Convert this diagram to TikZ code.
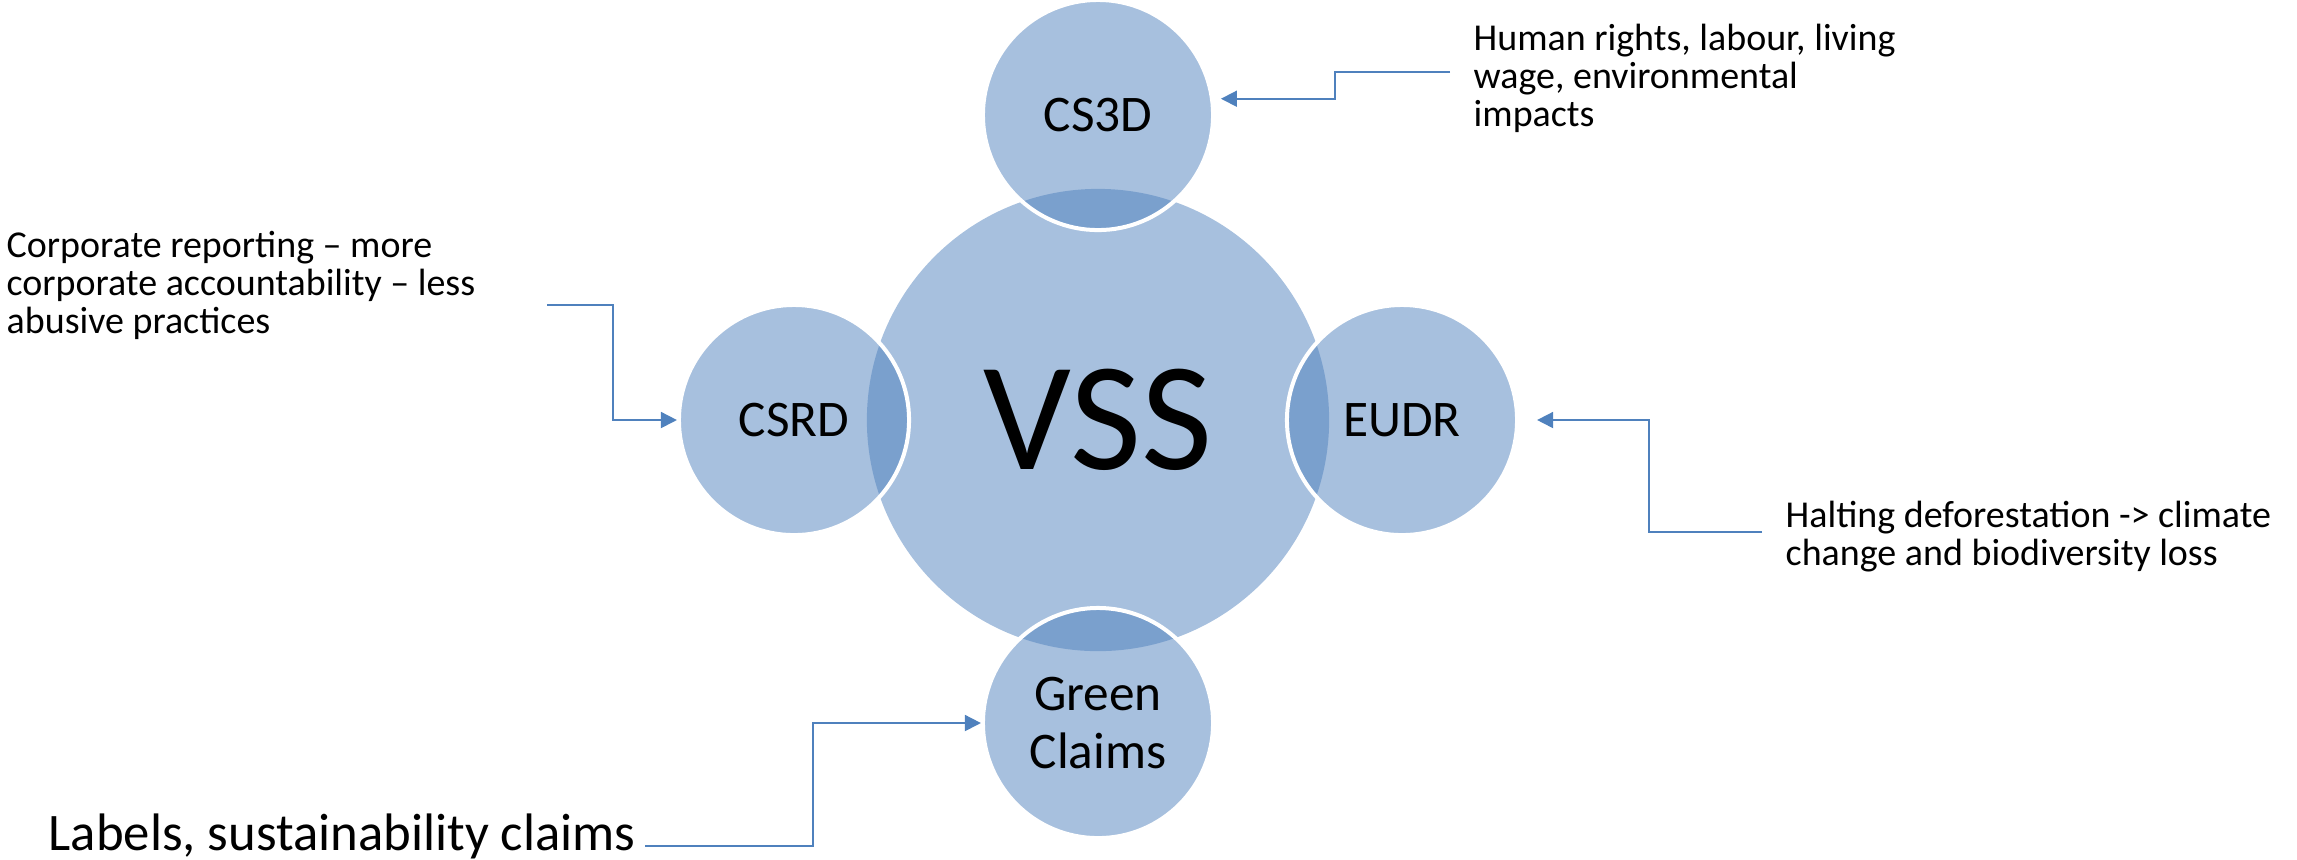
\documentclass[tikz,border=0pt]{standalone}
\usepackage{fontspec}
\setmainfont{Carlito}
\usetikzlibrary{arrows.meta}
\definecolor{office}{HTML}{4F81BD}
\tikzset{
  hub/.style={circle, minimum size=4.62cm, inner sep=0pt, fill=office, fill opacity=0.5, text opacity=1, font=\fontsize{44}{44}\selectfont},
  sat/.style={circle, minimum size=2.30cm, inner sep=0pt, fill=office, fill opacity=0.5, text opacity=1, draw=white, line width=0.04cm, align=center, font=\fontsize{14.6}{16.5}\selectfont},
  note/.style={anchor=base west, align=left, inner sep=0pt, font=\fontsize{10.8}{10.8}\selectfont},
  link/.style={draw=office, line width=0.5pt, -{Triangle[length=0.16cm, width=0.16cm]}}
}

\begin{document}
\begin{tikzpicture}[x=0.01cm, y=-0.01cm]
  \useasboundingbox (0,0) rectangle (2297,859);

  \node[hub] (vss)  at (1098,420) {VSS};
  \node[sat] (cs3d) at (1098,115) {CS3D};
  \node[sat] (csrd) at ( 794,420) {CSRD};
  \node[sat] (eudr) at (1402,420) {EUDR};
  \node[sat] (gc)   at (1098,723) {Green\\Claims};

  \node[note] (cs3dn) at (1473,126) {Human rights, labour, living\\wage, environmental\\impacts};
  \node[note] (csrdn) at (   6,333) {Corporate reporting – more\\corporate accountability – less\\abusive practices};
  \node[note] (eudrn) at (1785,565) {Halting deforestation -> climate\\change and biodiversity loss};
  \node[note, font=\fontsize{15}{15}\selectfont] (gcn) at (48,850) {Labels, sustainability claims};

  \coordinate (cs3df) at (1450, 72);
  \coordinate (csrdf) at ( 547,305);
  \coordinate (eudrf) at (1762,532);
  \coordinate (gcf)   at ( 645,846);

  \draw[link, shorten >=0.07cm] (cs3df) -- ++(-115,0) |- (cs3d.8);
  \draw[link]                   (csrdf) -- ++(  66,0) |- (csrd.west);
  \draw[link, shorten >=0.18cm] (eudrf) -- ++(-113,0) |- (eudr.east);
  \draw[link]                   (gcf)   -- ++( 168,0) |- (gc.west);
\end{tikzpicture}
\end{document}
